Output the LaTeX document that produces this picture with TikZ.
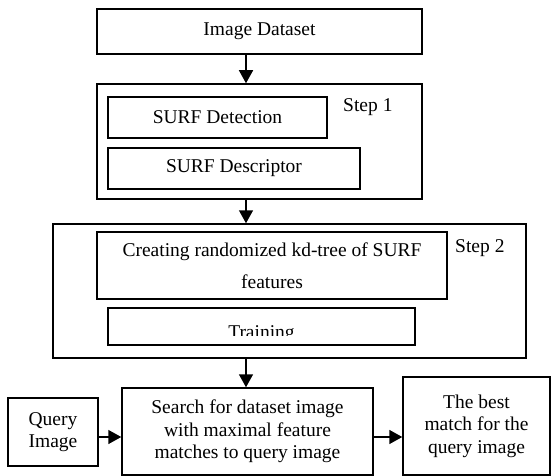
\documentclass[tikz,border=0pt]{standalone}
\usepackage{fontspec}
\setmainfont{Liberation Serif}
\usetikzlibrary{arrows.meta}
\begin{document}
\begin{tikzpicture}[x=1pt,y=-1pt,
 box/.style={draw, line width=1.5pt, inner sep=0pt, align=center, font=\fontsize{19.5}{22.5}\selectfont},
 lbl/.style={inner sep=0pt, font=\fontsize{19.5}{22.5}\selectfont},
 arr/.style={line width=1.5pt, -{Triangle[length=13pt,width=14pt]}}]
\useasboundingbox (0,0) rectangle (551,476);
\node[box, minimum width=325pt, minimum height=45pt] (ds) at (259.5,31.5) {Image Dataset};
\node[box, minimum width=325pt, minimum height=115pt] (s1) at (259.5,141.5) {};
\node[box, minimum width=219pt, minimum height=41pt] (det) at (217.5,117.5) {SURF Detection};
\node[box, minimum width=252pt, minimum height=41pt] (desc) at (234,168.5) {SURF Descriptor};
\node[lbl, anchor=base west] (st1) at (343,112) {Step 1};
\node[box, minimum width=473pt, minimum height=134pt] (s2) at (289.5,291) {};
\node[box, minimum width=350pt, minimum height=67pt, font=\fontsize{19.5}{32}\selectfont] (kd) at (272,265.5) {Creating randomized kd-tree of SURF\\features};
\node[lbl, anchor=base west] (st2) at (455,252) {Step 2};
\node[box, minimum width=307pt, minimum height=37pt] (tr) at (261.5,326.5) {};
\begin{scope}
\clip (108,308) rectangle (415,335);
\node[lbl, anchor=base] (trtext) at (261.5,338.5) {Training};
\end{scope}
\node[box, minimum width=251pt, minimum height=87pt] (search) at (247.5,431.5) {Search for dataset image\\with maximal feature\\matches to query image};
\node[box, minimum width=90pt, minimum height=68pt] (query) at (53,432) {Query\\Image};
\node[box, minimum width=147pt, minimum height=98pt] (best) at (476.5,426) {The best\\match for the\\query image};
\coordinate (ax) at (246,0);
\coordinate (ay) at (0,437);
\draw[arr] (ds.south -| ax) -- (s1.north -| ax);
\draw[arr] (s1.south -| ax) -- (s2.north -| ax);
\draw[arr] (s2.south -| ax) -- (search.north -| ax);
\draw[arr] (query.east |- ay) -- (search.west |- ay);
\draw[arr] (search.east |- ay) -- (best.west |- ay);
\end{tikzpicture}
\end{document}
